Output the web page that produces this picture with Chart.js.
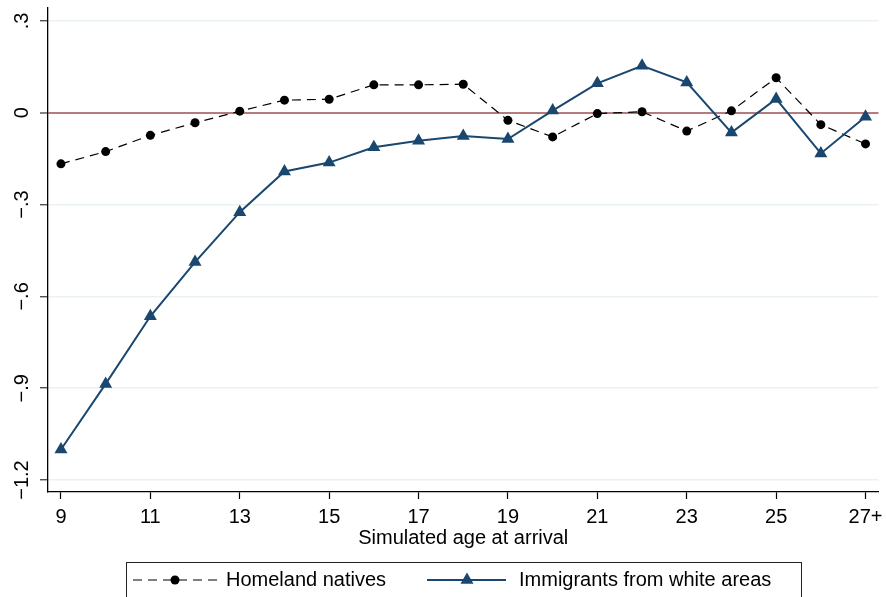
<!DOCTYPE html>
<html>
<head>
<meta charset="utf-8">
<script src="https://cdn.jsdelivr.net/npm/chart.js@4"></script>
<style>
  body { margin: 0; background: #fff; }
  #wrap { width: 886px; height: 597px; }
</style>
</head>
<body>
<div id="wrap"><canvas id="myChart" width="886" height="597"></canvas></div>
<script>
'use strict';
// data
let ages = [9, 10, 11, 12, 13, 14, 15, 16, 17, 18, 19, 20, 21, 22, 23, 24, 25, 26, 27];
let homeland = [-0.167, -0.127, -0.074, -0.033, 0.005, 0.041, 0.044, 0.091, 0.091, 0.093,
    -0.025, -0.079, -0.003, 0.003, -0.060, 0.006, 0.114, -0.039, -0.102];
let immigrants = [-1.100, -0.886, -0.665, -0.488, -0.325, -0.192, -0.163, -0.113, -0.092, -0.076,
    -0.086, 0.007, 0.096, 0.153, 0.099, -0.065, 0.045, -0.133, -0.013];
let xTicks = [9, 11, 13, 15, 17, 19, 21, 23, 25, 27];
let yTicks = [-1.2, -0.9, -0.6, -0.3, 0, 0.3];
let seriesNames = ['Homeland natives', 'Immigrants from white areas'];
let xTitle = 'Simulated age at arrival';

let navy = '#1a476f';
let refRed = '#b47c7e';
let gridColor = '#e9f1f2';
let fontFamily = "'Liberation Sans', Arial, sans-serif";

Chart.defaults.font.family = fontFamily;
Chart.defaults.font.size = 20;
Chart.defaults.color = '#000';

function toPoints(values) {
    return ages.map(function (a, i) { return { x: a, y: values[i] }; });
}

function yLabel(v) {
    if (v === 0) return '0';
    let s = Math.abs(v).toFixed(1).replace(/^0/, '');
    return (v < 0 ? '\u2212' : '') + s;
}

// legend drawn by hand: line + marker samples in a framed box
let legendBox = {
    id: 'legendBox',
    afterDraw: function (chart) {
        let ctx = chart.ctx;
        let y = 580;
        ctx.save();
        ctx.strokeStyle = '#222';
        ctx.lineWidth = 1;
        ctx.strokeRect(126.5, 562.5, 675, 60);

        // homeland sample
        ctx.strokeStyle = '#000';
        ctx.lineWidth = 1.2;
        ctx.setLineDash([9, 6]);
        ctx.beginPath();
        ctx.moveTo(133, y);
        ctx.lineTo(218, y);
        ctx.stroke();
        ctx.setLineDash([]);
        ctx.fillStyle = '#000';
        ctx.beginPath();
        ctx.arc(175, y, 4.5, 0, Math.PI * 2);
        ctx.fill();

        // immigrants sample
        ctx.strokeStyle = navy;
        ctx.lineWidth = 2;
        ctx.beginPath();
        ctx.moveTo(427, y);
        ctx.lineTo(506, y);
        ctx.stroke();
        ctx.fillStyle = navy;
        let r = 7.5;
        ctx.beginPath();
        ctx.moveTo(467, y - r);
        ctx.lineTo(467 + r * Math.sin(Math.PI * 2 / 3), y + r / 2);
        ctx.lineTo(467 - r * Math.sin(Math.PI * 2 / 3), y + r / 2);
        ctx.closePath();
        ctx.fill();

        ctx.fillStyle = '#000';
        ctx.font = '20px ' + fontFamily;
        ctx.textBaseline = 'middle';
        ctx.textAlign = 'left';
        ctx.fillText(seriesNames[0], 226, y);
        ctx.fillText(seriesNames[1], 519, y);
        ctx.restore();
    }
};

let ctx = document.getElementById('myChart').getContext('2d');
let myChart = new Chart(ctx, {
    type: 'line',
    data: {
        datasets: [{
            label: seriesNames[0],
            data: toPoints(homeland),
            borderColor: '#000',
            backgroundColor: '#000',
            borderWidth: 1.2,
            borderDash: [9, 6],
            pointStyle: 'circle',
            pointRadius: 4.5,
            pointBorderWidth: 0,
            pointBackgroundColor: '#000',
            tension: 0,
            order: 1
        }, {
            label: seriesNames[1],
            data: toPoints(immigrants),
            borderColor: navy,
            backgroundColor: navy,
            borderWidth: 2,
            pointStyle: 'triangle',
            pointRadius: 7.5,
            pointBorderWidth: 0,
            pointBackgroundColor: navy,
            tension: 0,
            order: 0
        }]
    },
    options: {
        responsive: false,
        animation: false,
        layout: { padding: { top: 5, right: 5, bottom: 35, left: 0 } },
        plugins: {
            legend: { display: false },
            tooltip: { enabled: false }
        },
        scales: {
            x: {
                type: 'linear',
                min: 8.71,
                max: 27.29,
                afterBuildTicks: function (scale) {
                    scale.ticks = xTicks.map(function (v) { return { value: v }; });
                },
                afterFit: function (scale) {
                    scale.height = 70;
                    scale.paddingLeft = 0;
                    scale.paddingRight = 0;
                },
                ticks: {
                    padding: 6,
                    maxRotation: 0,
                    autoSkip: false,
                    callback: function (v) { return v === 27 ? '27+' : String(v); }
                },
                grid: {
                    drawOnChartArea: false,
                    tickLength: 7,
                    tickColor: '#000',
                    tickWidth: 1.2
                },
                border: { color: '#000', width: 1.3 },
                title: {
                    display: true,
                    text: xTitle,
                    padding: { top: 0, bottom: 12 }
                }
            },
            y: {
                min: -1.239,
                max: 0.3436,
                afterBuildTicks: function (scale) {
                    scale.ticks = yTicks.map(function (v) { return { value: v }; });
                },
                afterFit: function (scale) {
                    scale.width = 48;
                    scale.paddingTop = 0;
                    scale.paddingBottom = 0;
                },
                ticks: {
                    minRotation: 90,
                    maxRotation: 90,
                    crossAlign: 'center',
                    padding: -2,
                    callback: function (v) { return yLabel(v); }
                },
                grid: {
                    color: function (c) { return c.tick && c.tick.value === 0 ? refRed : gridColor; },
                    lineWidth: function (c) { return c.tick && c.tick.value === 0 ? 2 : 1.5; },
                    tickLength: 8,
                    tickColor: '#333',
                    tickWidth: 1.2
                },
                border: { color: '#000', width: 1.3 }
            }
        }
    },
    plugins: [legendBox]
});
</script>
</body>
</html>
